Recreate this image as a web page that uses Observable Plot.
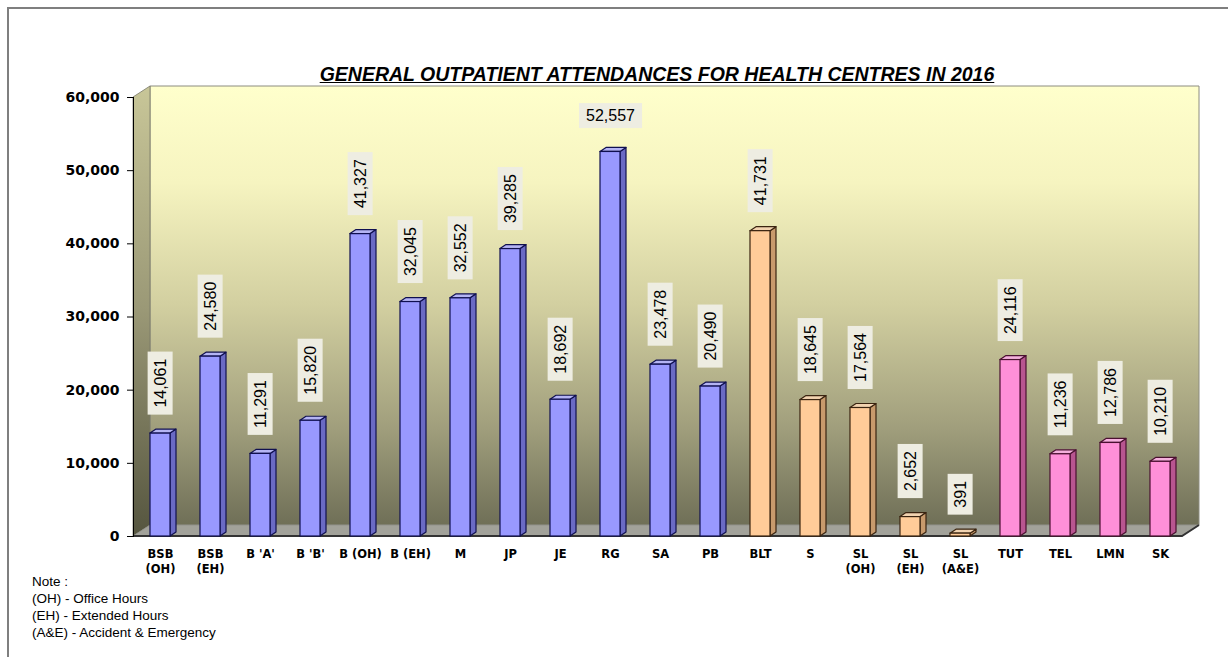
<!DOCTYPE html>
<html>
<head>
<meta charset="utf-8">
<script src="https://cdn.jsdelivr.net/npm/d3@7"></script>
<script src="https://cdn.jsdelivr.net/npm/@observablehq/plot@0.6"></script>
<style>
  html, body { margin: 0; padding: 0; background: #fff; width: 1228px; height: 657px; overflow: hidden; }
  #border { position: absolute; left: 7px; top: 7px; width: 1221px; height: 650px; border-top: 2px solid #7f7f7f; border-left: 2px solid #7f7f7f; box-sizing: border-box; }
  #title { position: absolute; top: 63px; left: 657px; transform: translateX(-50%); white-space: nowrap;
           font-family: "Liberation Sans", Arial, sans-serif; font-weight: bold; font-style: italic; font-size: 19.5px; text-decoration: underline; color: #000; }
  #chart { position: absolute; left: 0; top: 80px; }
  #note { position: absolute; left: 32px; top: 573px; font-family: "Liberation Sans", Arial, sans-serif; font-size: 13.5px; line-height: 17px; color: #000; }
  #chart [aria-label^="y-axis"] text { font-weight: bold; font-size: 14px; font-family: "DejaVu Sans", sans-serif; }
</style>
</head>
<body>
<div id="border"></div>
<div id="title">GENERAL OUTPATIENT ATTENDANCES FOR HEALTH CENTRES IN 2016</div>
<div id="chart"></div>
<div id="note">Note :<br>(OH) - Office Hours<br>(EH) - Extended Hours<br>(A&amp;E) - Accident &amp; Emergency</div>
<script>
const categories = ["BSB\n(OH)", "BSB\n(EH)", "B 'A'", "B 'B'", "B (OH)", "B (EH)", "M", "JP", "JE", "RG", "SA", "PB",
                    "BLT", "S", "SL\n(OH)", "SL\n(EH)", "SL\n(A&E)", "TUT", "TEL", "LMN", "SK"];
const values = [14061, 24580, 11291, 15820, 41327, 32045, 32552, 39285, 18692, 52557, 23478, 20490,
                41731, 18645, 17564, 2652, 391, 24116, 11236, 12786, 10210];
const groups = ["blue","blue","blue","blue","blue","blue","blue","blue","blue","blue","blue","blue",
                "orange","orange","orange","orange","orange","pink","pink","pink","pink"];
const yTicks = [0, 10000, 20000, 30000, 40000, 50000, 60000];
const horizontalLabel = ["RG"];

const palette = {
  blue:   {front: "#9999FF", side: "#6A6AC4", top: "#B4B4F4", stroke: "#101050"},
  orange: {front: "#FFCC99", side: "#C89A6C", top: "#F2D3B0", stroke: "#3A2410"},
  pink:   {front: "#FF90D8", side: "#B85590", top: "#F4B0DC", stroke: "#4A1030"}
};
const groupOrder = Object.keys(palette);

const rows = categories.map((c, i) => ({name: c, value: values[i], group: groups[i]}));
const fmt = d3.format(",");

const W = 1228, H = 496, M = {top: 17, right: 46, bottom: 40, left: 133};

const barMarks = groupOrder.map(g =>
  Plot.barY(rows.filter(r => r.group === g), {
    x: "name", y: "value", fill: palette[g].front, stroke: palette[g].stroke, strokeWidth: 1.2
  })
);

const chart = Plot.plot({
  width: W, height: H,
  marginTop: M.top, marginBottom: M.bottom, marginLeft: M.left, marginRight: M.right,
  style: {background: "transparent", fontFamily: "DejaVu Sans, sans-serif", overflow: "visible", color: "#000"},
  x: {domain: categories, range: [120, 1200], paddingInner: 0.6, paddingOuter: 0.6, round: false, axis: null},
  y: {domain: [0, 60000], ticks: yTicks, tickFormat: d => fmt(d), label: null, tickSize: 6, tickPadding: 8, line: true},
  marks: [
    ...barMarks,
    Plot.text(rows.filter(r => !horizontalLabel.includes(r.name)), {
      x: "name", y: "value", text: d => fmt(d.value), rotate: -90, textAnchor: "start", lineAnchor: "middle",
      dy: -26, fontSize: 16, fontFamily: "Liberation Sans, Arial, sans-serif", fill: "#000"
    }),
    Plot.text(rows.filter(r => horizontalLabel.includes(r.name)), {
      x: "name", y: "value", text: d => fmt(d.value), textAnchor: "middle", lineAnchor: "middle",
      dy: -36, fontSize: 16, fontFamily: "Liberation Sans, Arial, sans-serif", fill: "#000"
    }),
    Plot.text(categories, {
      x: d => d, text: d => d, frameAnchor: "bottom", lineAnchor: "top", dy: 11, lineHeight: 1.3,
      fontSize: 11.5, fontWeight: "bold", fontFamily: "DejaVu Sans, sans-serif", fill: "#000"
    })
  ]
});
document.getElementById("chart").appendChild(chart);

// ---- 3D decoration ----
const NS = "http://www.w3.org/2000/svg";
const svg = d3.select(chart);
const defs = svg.insert("defs", ":first-child");
const g1 = defs.append("linearGradient").attr("id", "wallGrad").attr("x1", 0).attr("y1", 0).attr("x2", 0).attr("y2", 1);
[[0, "#FFFFCC"], [0.22, "#F6F4C0"], [0.5, "#D2CFA0"], [0.78, "#A09E7C"], [1, "#6F6F57"]].forEach(([o, c]) =>
  g1.append("stop").attr("offset", o).attr("stop-color", c));
const g2 = defs.append("linearGradient").attr("id", "sideGrad").attr("x1", 0).attr("y1", 0).attr("x2", 0).attr("y2", 1);
[[0, "#C8C698"], [0.5, "#9A9876"], [1, "#55553F"]].forEach(([o, c]) =>
  g2.append("stop").attr("offset", o).attr("stop-color", c));

const DX = 17, DY = -11;
const L = M.left, R = W - M.right, T = M.top, B = H - M.bottom;
const bg = document.createElementNS(NS, "g");
bg.setAttribute("aria-label", "walls");
defs.node().after(bg);
const addPoly = (parent, pts, fill, stroke, sw, before) => {
  const p = document.createElementNS(NS, "polygon");
  p.setAttribute("points", pts.map(q => q.join(",")).join(" "));
  p.setAttribute("fill", fill);
  if (stroke) { p.setAttribute("stroke", stroke); p.setAttribute("stroke-width", sw || 1); p.setAttribute("stroke-linejoin", "round"); }
  if (before) parent.insertBefore(p, before); else parent.appendChild(p);
  return p;
};
addPoly(bg, [[L + DX, T + DY], [R + DX, T + DY], [R + DX, B + DY], [L + DX, B + DY]], "url(#wallGrad)", "#8c8c80", 1);
addPoly(bg, [[L, T], [L + DX, T + DY], [L + DX, B + DY], [L, B]], "url(#sideGrad)", "#7a7a68", 0.8);
addPoly(bg, [[L, B], [L + DX, B + DY], [R + DX, B + DY], [R, B]], "#A2A29A", "#8a8a84", 0.6);
const edge = document.createElementNS(NS, "polyline");
edge.setAttribute("points", `${L},${B} ${R},${B} ${R + DX},${B + DY}`);
edge.setAttribute("fill", "none"); edge.setAttribute("stroke", "#333"); edge.setAttribute("stroke-width", 2);
bg.appendChild(edge);

// bars: side and top faces derived from each rendered rect
const SD = 6, SV = -4;
svg.selectAll('g[aria-label="bar"]').each(function(_, gi) {
  const g = groupOrder[gi];
  if (!g) return;
  d3.select(this).selectAll("rect").each(function() {
    const x = +this.getAttribute("x"), y = +this.getAttribute("y"), w = +this.getAttribute("width"), h = +this.getAttribute("height");
    addPoly(this.parentNode, [[x + w, y + h], [x + w + SD, y + h + SV], [x + w + SD, y + SV], [x + w, y]], palette[g].side, palette[g].stroke, 1.2, this);
    addPoly(this.parentNode, [[x, y], [x + SD, y + SV], [x + w + SD, y + SV], [x + w, y]], palette[g].top, palette[g].stroke, 1.2, this);
  });
});

// label boxes behind value labels (first two text marks)
const textGroups = svg.selectAll('g[aria-label="text"]').nodes().slice(0, 2);
textGroups.forEach(grp => {
  d3.select(grp).selectAll("text").each(function() {
    const bb = this.getBBox();
    const r = document.createElementNS(NS, "rect");
    const padAlong = 7, padAcross = 4;
    r.setAttribute("x", bb.x - padAlong); r.setAttribute("y", bb.y - padAcross);
    r.setAttribute("width", bb.width + 2 * padAlong); r.setAttribute("height", bb.height + 2 * padAcross);
    r.setAttribute("fill", "#EEEDE2");
    const t = this.getAttribute("transform"); if (t) r.setAttribute("transform", t);
    this.parentNode.insertBefore(r, this);
  });
});
</script>
</body>
</html>
